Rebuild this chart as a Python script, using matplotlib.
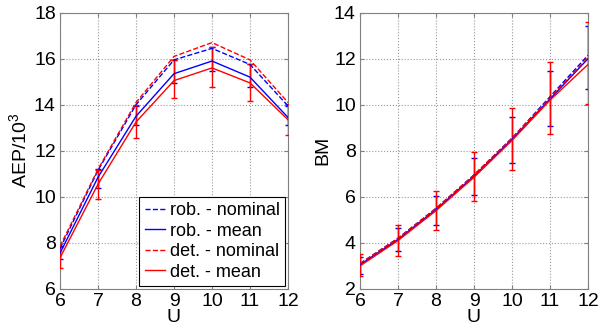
import numpy as np
import matplotlib
matplotlib.use("Agg")
import matplotlib.pyplot as plt

plt.rcParams['font.family'] = ['Liberation Sans', 'DejaVu Sans']
plt.rcParams['mathtext.fontset'] = 'custom'
plt.rcParams['mathtext.rm'] = 'Liberation Sans'

U = [6, 7, 8, 9, 10, 11, 12]

# AEP / 10^3
aep_rob_nom = [7.75, 11.15, 14.0, 15.95, 16.45, 15.75, 13.95]
aep_rob_mean = [7.55, 10.85, 13.5, 15.35, 15.9, 15.2, 13.45]
aep_det_nom = [7.85, 11.2, 14.1, 16.1, 16.7, 15.95, 14.1]
aep_det_mean = [7.35, 10.55, 13.25, 15.05, 15.6, 14.95, 13.35]
aep_rob_lo = [7.3, 10.38, 13.1, 14.93, 15.45, 14.78, 13.1]
aep_rob_hi = [7.85, 11.2, 13.95, 15.95, 16.5, 15.75, 13.95]
aep_det_lo = [6.9, 9.92, 12.55, 14.28, 14.78, 14.15, 12.68]
aep_det_hi = [7.8, 11.15, 14.0, 15.95, 16.5, 15.75, 14.05]

# BM
bm_rob_nom = [3.1, 4.2, 5.5, 6.95, 8.55, 10.35, 12.15]
bm_rob_mean = [3.05, 4.15, 5.45, 6.9, 8.5, 10.25, 12.0]
bm_det_nom = [3.1, 4.2, 5.5, 6.95, 8.55, 10.3, 12.05]
bm_det_mean = [3.0, 4.1, 5.4, 6.85, 8.45, 10.2, 11.75]
bm_rob_lo = [2.65, 3.63, 4.78, 6.08, 7.49, 9.07, 10.7]
bm_rob_hi = [3.39, 4.63, 6.05, 7.67, 9.47, 11.47, 13.42]
bm_det_lo = [2.55, 3.45, 4.57, 5.8, 7.18, 8.71, 10.04]
bm_det_hi = [3.52, 4.78, 6.25, 7.94, 9.84, 11.86, 13.61]

labels = ['rob. - nominal', 'rob. - mean', 'det. - nominal', 'det. - mean']


def draw(ax, rn, rm, dn, dm, rlo, rhi, dlo, dhi):
    u = np.array(U)
    rm_a, dm_a = np.array(rm), np.array(dm)
    ax.errorbar(u, rm_a, yerr=[rm_a - np.array(rlo), np.array(rhi) - rm_a],
                fmt='none', ecolor='blue', elinewidth=1, capsize=2.5, zorder=2)
    ax.errorbar(u, dm_a, yerr=[dm_a - np.array(dlo), np.array(dhi) - dm_a],
                fmt='none', ecolor='red', elinewidth=1, capsize=2.5, zorder=3)
    h1, = ax.plot(U, rn, '--', color='blue', lw=1, label=labels[0], zorder=4)
    h2, = ax.plot(U, rm, '-', color='blue', lw=1, label=labels[1], zorder=4)
    h3, = ax.plot(U, dn, '--', color='red', lw=1, label=labels[2], zorder=4)
    h4, = ax.plot(U, dm, '-', color='red', lw=1, label=labels[3], zorder=4)
    ax.set_xlim(6, 12)
    ax.set_xticks(U)
    ax.grid(True, linestyle=':', color='#999999', lw=0.8)
    for s in ax.spines.values():
        s.set_color('#808080')
    ax.tick_params(direction='in', top=True, right=True, labelsize=14,
                   length=3, color='#808080', pad=3)
    ax.set_xlabel('U', fontsize=14, labelpad=-1)
    return [h1, h2, h3, h4]


fig = plt.figure(figsize=(6, 3.34), dpi=100)
ax1 = fig.add_axes([0.1, 0.135, 0.38, 0.827])
ax2 = fig.add_axes([0.6, 0.135, 0.38, 0.827])

handles = draw(ax1, aep_rob_nom, aep_rob_mean, aep_det_nom, aep_det_mean,
               aep_rob_lo, aep_rob_hi, aep_det_lo, aep_det_hi)
ax1.set_ylim(6, 18)
ax1.set_ylabel('AEP/10$^3$', fontsize=14, labelpad=2)
leg = ax1.legend(handles=handles, loc='lower right', fontsize=13,
                 handlelength=1.15, handletextpad=0.25, borderpad=0.3,
                 labelspacing=0.2, borderaxespad=0.15, fancybox=False,
                 edgecolor='black', framealpha=1)
leg.get_frame().set_linewidth(0.8)

draw(ax2, bm_rob_nom, bm_rob_mean, bm_det_nom, bm_det_mean,
     bm_rob_lo, bm_rob_hi, bm_det_lo, bm_det_hi)
ax2.set_ylim(2, 14)
ax2.set_ylabel('BM', fontsize=14, labelpad=2)

fig.savefig('out.png', dpi=100)
